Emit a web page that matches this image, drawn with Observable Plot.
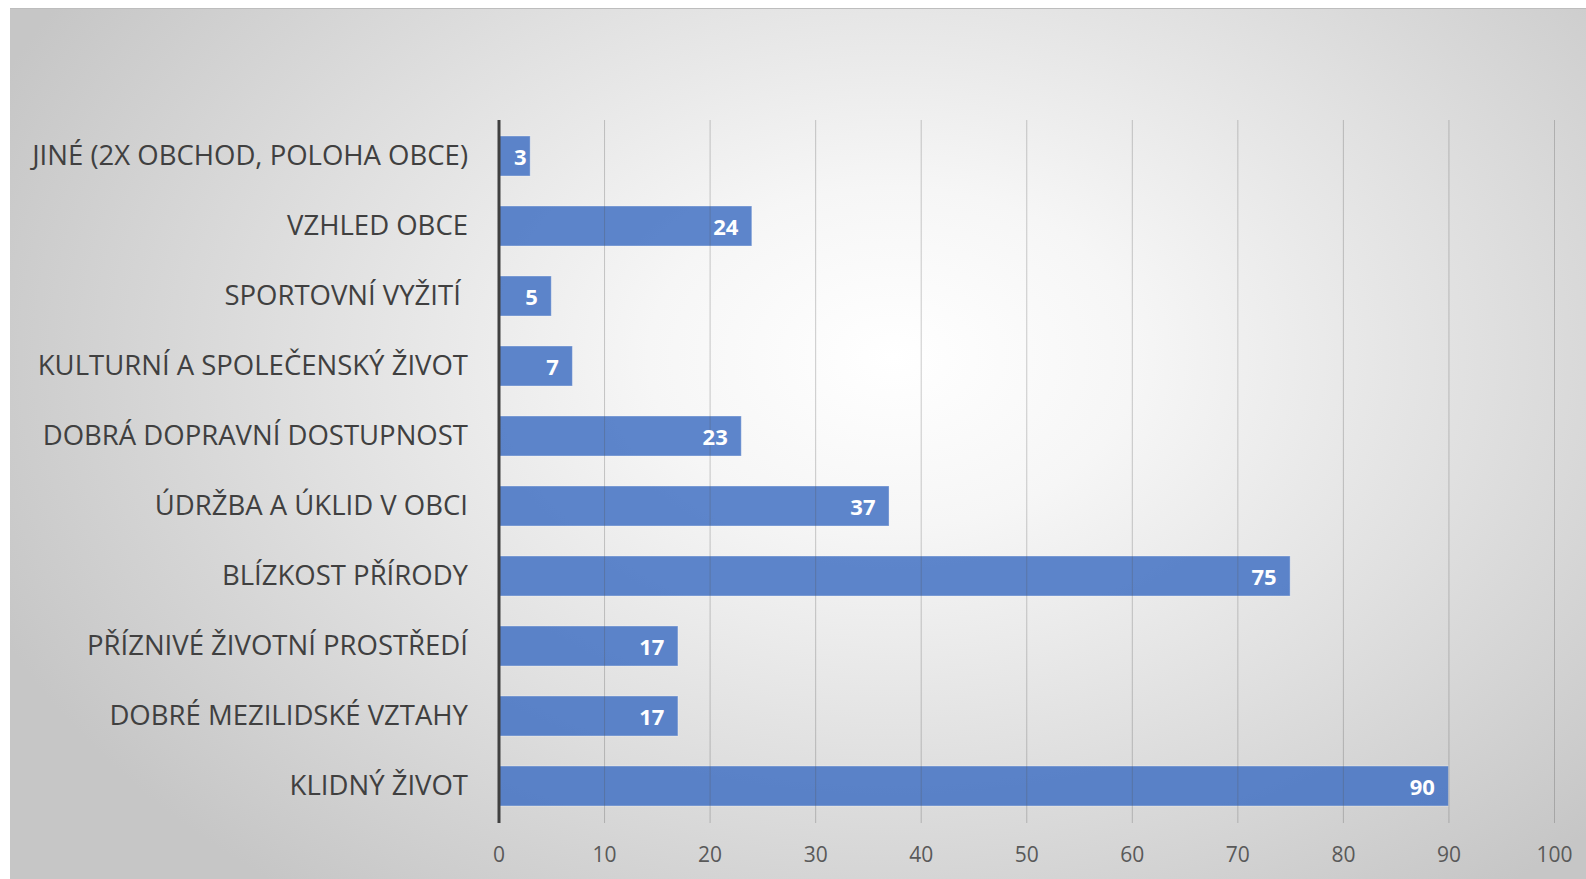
<!DOCTYPE html>
<html>
<head>
<meta charset="utf-8">
<script src="https://cdn.jsdelivr.net/npm/d3@7"></script>
<script src="https://cdn.jsdelivr.net/npm/@observablehq/plot@0.6"></script>
<style>
  html, body { margin: 0; padding: 0; background: #ffffff; overflow: hidden; }
  #panel {
    position: absolute; left: 10px; top: 8px; width: 1576px; height: 871px;
    background: radial-gradient(ellipse 62% 78% at 56% 40%, #ffffff 0%, #f6f6f6 25%, #e0e0e0 60%, #c6c6c6 100%);
    border-top: 1px solid #bdbdbd; box-sizing: border-box;
  }
  #panel svg { position: absolute; left: 0; top: -1px; }
  #panel svg text { white-space: pre; }
</style>
</head>
<body>
<div id="panel"></div>
<script>
const categories = [
  "JINÉ (2X OBCHOD, POLOHA OBCE)",
  "VZHLED OBCE",
  "SPORTOVNÍ VYŽITÍ ",
  "KULTURNÍ A SPOLEČENSKÝ ŽIVOT",
  "DOBRÁ DOPRAVNÍ DOSTUPNOST",
  "ÚDRŽBA A ÚKLID V OBCI",
  "BLÍZKOST PŘÍRODY",
  "PŘÍZNIVÉ ŽIVOTNÍ PROSTŘEDÍ",
  "DOBRÉ MEZILIDSKÉ VZTAHY",
  "KLIDNÝ ŽIVOT"
];
const values = [3, 24, 5, 7, 23, 37, 75, 17, 17, 90];
const xTicks = [0, 10, 20, 30, 40, 50, 60, 70, 80, 90, 100];

const data = categories.map((c, i) => ({cat: c, value: values[i]}));

const chart = Plot.plot({
  width: 1576,
  height: 871,
  marginLeft: 488.5,
  marginRight: 32,
  marginTop: 112,
  marginBottom: 56,
  style: {background: "transparent", fontFamily: "'Open Sans', sans-serif", overflow: "visible"},
  x: {domain: [0, 100], axis: null},
  y: {domain: categories, paddingInner: 0.424, paddingOuter: 0.212, axis: null},
  marks: [
    Plot.barX(data, {x: "value", y: "cat", fill: "#4472c4", fillOpacity: 0.86, stroke: "#ffffff", strokeOpacity: 0.35, strokeWidth: 1}),
    Plot.ruleX(xTicks.filter(t => t > 0), {stroke: "#555555", strokeOpacity: 0.3, strokeWidth: 1}),
    Plot.ruleX([0], {stroke: "#404040", strokeWidth: 3}),
    Plot.text(data.filter(d => d.value >= 4), {x: "value", y: "cat", text: d => String(d.value), textAnchor: "end", dx: -14, dy: 1, fill: "#ffffff", fontWeight: "bold", fontSize: 22}),
    Plot.text(data.filter(d => d.value < 4), {x: d => 0, y: "cat", text: d => String(d.value), textAnchor: "start", dx: 15, dy: 1, fill: "#ffffff", fontWeight: "bold", fontSize: 22}),
    Plot.axisX(xTicks, {tickSize: 0, tickPadding: 24, fontSize: 21, fill: "#595959", label: null}),
    Plot.axisY({tickSize: 0, tickPadding: 31, fontSize: 27.5, fill: "#404040", label: null})
  ]
});
document.getElementById("panel").appendChild(chart);
</script>
</body>
</html>
